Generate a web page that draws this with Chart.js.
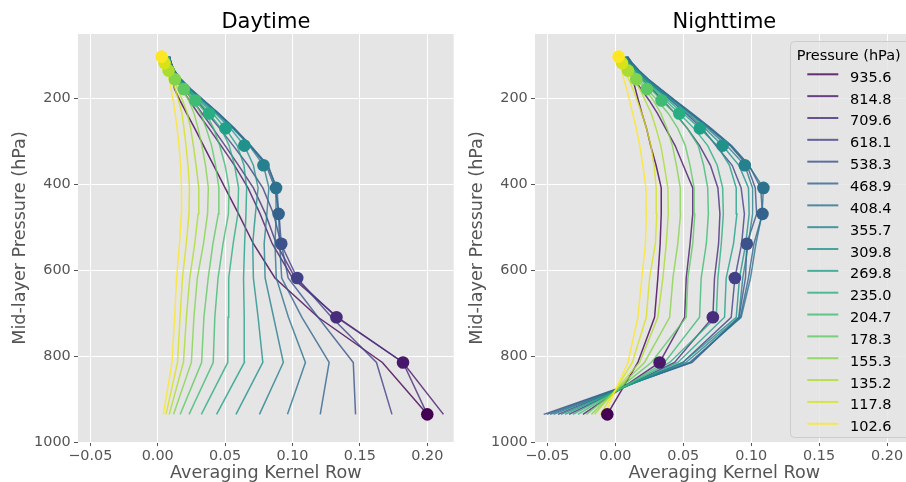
<!DOCTYPE html>
<html>
<head>
<meta charset="utf-8">
<script src="https://cdn.jsdelivr.net/npm/chart.js@4"></script>
<style>
  html, body { margin: 0; padding: 0; background: #fff; overflow: hidden; }
  #wrap { position: relative; width: 906px; height: 482px; overflow: hidden; }
  canvas { position: absolute; top: 0; }
</style>
</head>
<body>
<div id="wrap">
  <canvas id="day" width="460" height="496" style="left:0px"></canvas>
  <canvas id="night" width="460" height="496" style="left:460px"></canvas>
</div>
<script>
// pressure levels, bottom (935.6) to top (102.6)
const levels = [935.6, 814.8, 709.6, 618.1, 538.3, 468.9, 408.4, 355.7, 309.8, 269.8, 235.0, 204.7, 178.3, 155.3, 135.2, 117.8, 102.6];

// viridis, one colour per level (935.6 -> 102.6)
const colors = ['#440154', '#48186a', '#472d7b', '#424086', '#3b528b', '#33638d', '#2c728e', '#27808e',
  '#21918c', '#1fa088', '#28ae80', '#3fbc73', '#5ec962', '#84d44b', '#addc30', '#d8e219', '#fde725'];

const xTicks = [-0.05, 0, 0.05, 0.1, 0.15, 0.2];
const yTicks = [200, 400, 600, 800, 1000];

// daytime kernel rows, values at levels[0..16]
const day935 = [0.200, 0.1667, 0.119, 0.087, 0.071, 0.060, 0.050, 0.0415, 0.034, 0.0275, 0.0215, 0.0165, 0.0125, 0.011, 0.0098, 0.009, 0.0085];
const day815 = [0.212, 0.182, 0.1335, 0.100, 0.085, 0.076, 0.067, 0.057, 0.047, 0.038, 0.030, 0.0235, 0.018, 0.014, 0.0115, 0.0098, 0.0088];
const day710 = [0.200, 0.182, 0.1326, 0.102, 0.088, 0.080, 0.071, 0.060, 0.050, 0.041, 0.033, 0.026, 0.020, 0.0155, 0.012, 0.010, 0.0088];
const day618 = [0.1738, 0.1623, 0.129, 0.1035, 0.0915, 0.086, 0.078, 0.067, 0.056, 0.046, 0.037, 0.029, 0.022, 0.0165, 0.0125, 0.010, 0.0088];
const day538 = [0.1468, 0.1451, 0.119, 0.0968, 0.0917, 0.090, 0.087, 0.0805, 0.0685, 0.0565, 0.045, 0.034, 0.0244, 0.0172, 0.0124, 0.0099, 0.0087];
const day469 = [0.1206, 0.1272, 0.107, 0.092, 0.0905, 0.0897, 0.0885, 0.0815, 0.069, 0.057, 0.0455, 0.0342, 0.0246, 0.0173, 0.0124, 0.0099, 0.0087];
const day408 = [0.0963, 0.1096, 0.097, 0.088, 0.087, 0.088, 0.0878, 0.082, 0.0686, 0.0564, 0.045, 0.034, 0.0245, 0.0172, 0.0123, 0.0098, 0.0086];
const day356 = [0.0755, 0.0932, 0.086, 0.0797, 0.079, 0.081, 0.0825, 0.0785, 0.068, 0.0558, 0.044, 0.0335, 0.024, 0.017, 0.0122, 0.0097, 0.0086];
const day310 = [0.0581, 0.078, 0.0745, 0.071, 0.0705, 0.0725, 0.0745, 0.071, 0.0643, 0.054, 0.043, 0.032, 0.023, 0.0165, 0.012, 0.0096, 0.0085];
const day270 = [0.0437, 0.0643, 0.0642, 0.0637, 0.0645, 0.0655, 0.066, 0.064, 0.059, 0.0503, 0.041, 0.031, 0.022, 0.0158, 0.0115, 0.0094, 0.0083];
const day235 = [0.0324, 0.052, 0.0522, 0.0527, 0.056, 0.0595, 0.060, 0.057, 0.053, 0.047, 0.0382, 0.030, 0.021, 0.015, 0.011, 0.0092, 0.008];
const day205 = [0.0233, 0.0412, 0.0424, 0.0448, 0.0485, 0.0525, 0.053, 0.050, 0.046, 0.0415, 0.036, 0.0279, 0.0205, 0.0145, 0.0105, 0.009, 0.008];
const day178 = [0.0167, 0.0326, 0.0343, 0.0375, 0.041, 0.045, 0.0454, 0.043, 0.040, 0.036, 0.032, 0.0265, 0.0194, 0.0135, 0.010, 0.0085, 0.0075];
const day155 = [0.0118, 0.025, 0.0269, 0.0294, 0.034, 0.037, 0.0376, 0.0355, 0.0328, 0.030, 0.027, 0.023, 0.018, 0.0128, 0.0095, 0.008, 0.007];
const day135 = [0.0086, 0.0191, 0.0213, 0.0238, 0.0275, 0.030, 0.0305, 0.0285, 0.0265, 0.0245, 0.022, 0.0185, 0.015, 0.0115, 0.0081, 0.007, 0.006];
const day118 = [0.0062, 0.0147, 0.0166, 0.0184, 0.0212, 0.0232, 0.0236, 0.0225, 0.021, 0.0195, 0.018, 0.0155, 0.013, 0.0105, 0.0078, 0.0051, 0.005];
const day103 = [0.0042, 0.0106, 0.0126, 0.0140, 0.0162, 0.0175, 0.0177, 0.017, 0.0158, 0.0145, 0.013, 0.0115, 0.010, 0.0085, 0.007, 0.0055, 0.0029];

// nighttime kernel rows
const night935 = [-0.0059, 0.0166, 0.0289, 0.0313, 0.033, 0.0338, 0.0338, 0.030, 0.026, 0.023, 0.0196, 0.017, 0.0148, 0.0129, 0.0105, 0.008, 0.006];
const night815 = [-0.0238, 0.0326, 0.051, 0.0522, 0.055, 0.057, 0.057, 0.050, 0.044, 0.037, 0.031, 0.025, 0.019, 0.014, 0.010, 0.0075, 0.006];
const night710 = [-0.034, 0.0436, 0.0718, 0.073, 0.076, 0.077, 0.0755, 0.070, 0.062, 0.053, 0.044, 0.035, 0.027, 0.020, 0.015, 0.0105, 0.008];
const night618 = [-0.0422, 0.0497, 0.0853, 0.088, 0.093, 0.095, 0.0926, 0.086, 0.074, 0.064, 0.052, 0.041, 0.031, 0.022, 0.016, 0.011, 0.0085];
const night538 = [-0.0527, 0.0566, 0.091, 0.0958, 0.0968, 0.104, 0.103, 0.097, 0.0845, 0.0695, 0.0555, 0.0435, 0.033, 0.024, 0.0172, 0.0122, 0.009];
const night469 = [-0.0505, 0.0555, 0.092, 0.098, 0.102, 0.1083, 0.107, 0.0985, 0.0855, 0.0705, 0.0565, 0.044, 0.0335, 0.0245, 0.0175, 0.0125, 0.0092];
const night408 = [-0.048, 0.0546, 0.0926, 0.0995, 0.1035, 0.108, 0.109, 0.098, 0.085, 0.070, 0.056, 0.0435, 0.033, 0.024, 0.0172, 0.012, 0.0088];
const night356 = [-0.0455, 0.052, 0.0909, 0.0938, 0.098, 0.101, 0.101, 0.0953, 0.082, 0.068, 0.0545, 0.0425, 0.032, 0.023, 0.0165, 0.011, 0.008];
const night310 = [-0.040, 0.0497, 0.089, 0.0914, 0.096, 0.0985, 0.098, 0.091, 0.0789, 0.066, 0.053, 0.041, 0.031, 0.022, 0.0158, 0.010, 0.0075];
const night270 = [-0.037, 0.046, 0.0804, 0.0816, 0.087, 0.0895, 0.089, 0.084, 0.075, 0.0622, 0.050, 0.039, 0.0295, 0.021, 0.015, 0.0095, 0.007];
const night235 = [-0.0312, 0.040, 0.0743, 0.0755, 0.078, 0.0795, 0.079, 0.075, 0.068, 0.058, 0.0471, 0.037, 0.028, 0.020, 0.014, 0.009, 0.0065];
const night205 = [-0.0275, 0.0363, 0.062, 0.0632, 0.067, 0.0685, 0.068, 0.065, 0.061, 0.053, 0.044, 0.034, 0.026, 0.0185, 0.013, 0.0085, 0.006];
const night178 = [-0.0213, 0.0265, 0.0522, 0.0534, 0.057, 0.0585, 0.058, 0.055, 0.0515, 0.046, 0.039, 0.031, 0.0233, 0.017, 0.012, 0.008, 0.0055];
const night155 = [-0.0176, 0.0215, 0.040, 0.0424, 0.046, 0.048, 0.0478, 0.045, 0.042, 0.038, 0.0335, 0.028, 0.022, 0.0154, 0.0105, 0.007, 0.005];
const night135 = [-0.0152, 0.0179, 0.0313, 0.035, 0.0375, 0.039, 0.0387, 0.036, 0.0335, 0.030, 0.0265, 0.022, 0.018, 0.0135, 0.0093, 0.0065, 0.0045];
const night118 = [-0.011, 0.0125, 0.0228, 0.0252, 0.0295, 0.0305, 0.0301, 0.0285, 0.0262, 0.023, 0.0195, 0.016, 0.013, 0.0098, 0.0072, 0.0049, 0.004];
const night103 = [-0.0079, 0.0093, 0.0166, 0.0195, 0.0222, 0.0228, 0.0225, 0.0203, 0.018, 0.0155, 0.0128, 0.0105, 0.0085, 0.0062, 0.005, 0.0038, 0.0024];

const dayRows = [day935, day815, day710, day618, day538, day469, day408, day356, day310, day270, day235, day205, day178, day155, day135, day118, day103];
const nightRows = [night935, night815, night710, night618, night538, night469, night408, night356, night310, night270, night235, night205, night178, night155, night135, night118, night103];

const FONT = 'DejaVu Sans';
const GREY = '#555555';
Chart.defaults.font.family = FONT;

function rgba(hex, a) {
  const n = parseInt(hex.slice(1), 16);
  return `rgba(${(n >> 16) & 255},${(n >> 8) & 255},${n & 255},${a})`;
}

function fmtX(v) {
  if (Math.abs(v) < 1e-9) return '0.00';
  const s = Math.abs(v).toFixed(2);
  return v < 0 ? '\u2212' + s : s;
}

function buildDatasets(rows) {
  const ds = [];
  // markers on the diagonal, drawn on top of every line
  ds.push({
    data: rows.map((r, i) => ({ x: r[i], y: levels[i] })),
    pointRadius: 6.3,
    pointBackgroundColor: colors,
    pointBorderWidth: 0,
    showLine: false
  });
  for (let i = rows.length - 1; i >= 0; i--) {
    ds.push({
      data: rows[i].map((v, j) => ({ x: v, y: levels[j] })),
      borderColor: rgba(colors[i], 0.8),
      borderWidth: 1.5,
      pointRadius: 0,
      showLine: true,
      tension: 0
    });
  }
  return ds;
}

const bgPlugin = {
  id: 'bg',
  beforeDraw(chart) {
    const { ctx, chartArea: a } = chart;
    ctx.save();
    ctx.fillStyle = '#e5e5e5';
    ctx.fillRect(a.left, a.top, a.right - a.left, a.bottom - a.top);
    ctx.restore();
  }
};

const legendPlugin = {
  id: 'levelLegend',
  afterDraw(chart) {
    const ctx = chart.ctx;
    const bx = 330.5, by = 41.5;
    ctx.save();
    ctx.beginPath();
    ctx.roundRect(bx, by, 150, 396, 4);
    ctx.fillStyle = 'rgba(229,229,229,0.8)';
    ctx.fill();
    ctx.strokeStyle = '#cccccc';
    ctx.lineWidth = 1;
    ctx.stroke();
    ctx.font = `14.5px "${FONT}"`;
    ctx.fillStyle = '#000';
    ctx.textBaseline = 'alphabetic';
    ctx.fillText('Pressure (hPa)', 336.7, 60.3);
    levels.forEach((p, i) => {
      const y = 74.3 + i * 21.84;
      ctx.strokeStyle = rgba(colors[i], 0.8);
      ctx.lineWidth = 2;
      ctx.beginPath();
      ctx.moveTo(347.3, y);
      ctx.lineTo(378.3, y);
      ctx.stroke();
      ctx.fillStyle = '#000';
      ctx.fillText(p.toFixed(1), 390, y + 7.5);
    });
    ctx.restore();
  }
};

function makeChart(id, title, rows, yWidth, padRight, yTitlePad, extra) {
  const gridOpts = { color: '#ffffff', lineWidth: 1, tickColor: GREY, tickLength: 4, tickWidth: 1 };
  return new Chart(document.getElementById(id), {
    type: 'scatter',
    data: { datasets: buildDatasets(rows) },
    options: {
      responsive: false,
      animation: false,
      events: [],
      devicePixelRatio: 1,
      layout: { padding: { left: 0, right: padRight, top: 0, bottom: 0 } },
      plugins: {
        legend: { display: false },
        tooltip: { enabled: false },
        title: {
          display: true, text: title, color: '#000', fullSize: false,
          font: { size: 21, weight: 'normal', lineHeight: 1 },
          padding: { top: 12, bottom: 1 }
        }
      },
      scales: {
        x: {
          type: 'linear', min: -0.0591, max: 0.2196,
          afterBuildTicks: s => { s.ticks = xTicks.map(v => ({ value: v })); },
          ticks: { color: GREY, font: { size: 14.4 }, padding: 1.5, maxRotation: 0, autoSkip: false, callback: fmtX },
          grid: gridOpts,
          border: { display: false },
          title: { display: true, text: 'Averaging Kernel Row', color: GREY, font: { size: 17.6 }, padding: { top: 0, bottom: 11.9 } },
          afterFit: s => { s.height = 54; }
        },
        y: {
          type: 'linear', reverse: true, min: 50, max: 1000,
          afterBuildTicks: s => { s.ticks = yTicks.map(v => ({ value: v })); },
          ticks: { color: GREY, font: { size: 14.4 }, padding: 3.3, autoSkip: false, callback: v => String(v) },
          grid: gridOpts,
          border: { display: false },
          title: { display: true, text: 'Mid-layer Pressure (hPa)', color: GREY, font: { size: 17.6 }, padding: { top: yTitlePad, bottom: 0 } },
          afterFit: s => { s.width = yWidth; }
        }
      }
    },
    plugins: extra
  });
}

makeChart('day', 'Daytime', dayRows, 78, 3, 9.4, [bgPlugin]);
makeChart('night', 'Nighttime', nightRows, 75, 6, 6.4, [bgPlugin, legendPlugin]);
</script>
</body>
</html>
